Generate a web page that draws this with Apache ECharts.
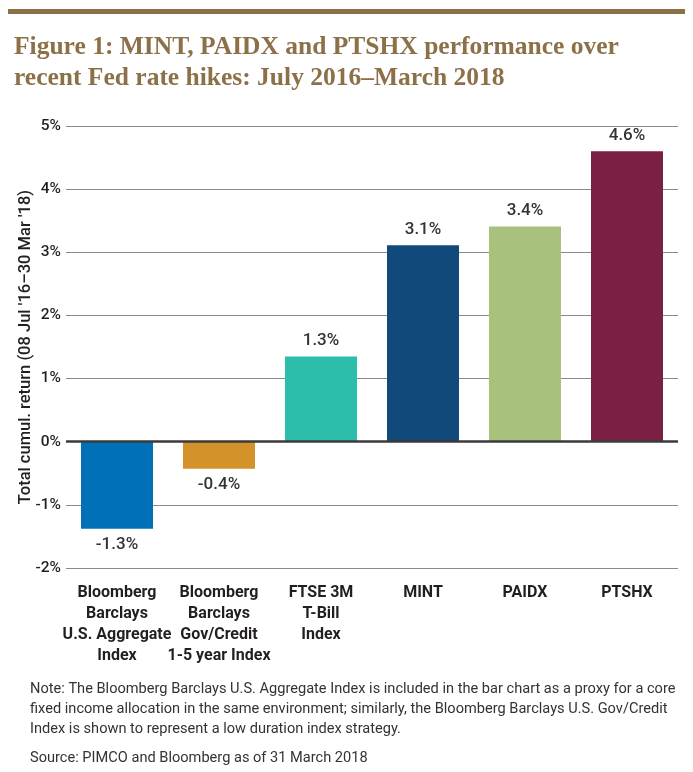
<!DOCTYPE html>
<html>
<head>
<meta charset="utf-8">
<script src="https://cdn.jsdelivr.net/npm/echarts@6/dist/echarts.min.js"></script>
<style>
  html, body { margin: 0; padding: 0; background: #fff; }
  #chart { width: 693px; height: 772px; }
</style>
</head>
<body>
<div id="chart"></div>
<script>
var categories = [
  'Bloomberg\nBarclays\nU.S. Aggregate\nIndex',
  'Bloomberg\nBarclays\nGov/Credit\n1-5 year Index',
  'FTSE 3M\nT-Bill\nIndex',
  'MINT',
  'PAIDX',
  'PTSHX'
];
var returns = [-1.38, -0.43, 1.35, 3.11, 3.41, 4.6];   // bar heights
var returnLabels = ['-1.3%', '-0.4%', '1.3%', '3.1%', '3.4%', '4.6%'];
var barColors = ['#0070b8', '#d4922b', '#2dbdab', '#11497a', '#a8c27e', '#7b2045'];
var yTicks = { min: -2, max: 5, step: 1 };

var noteLines = [
  'Note: The Bloomberg Barclays U.S. Aggregate Index is included in the bar chart as a proxy for a core',
  'fixed income allocation in the same environment; similarly, the Bloomberg Barclays U.S. Gov/Credit',
  'Index is shown to represent a low duration index strategy.'
];
var sourceText = 'Source: PIMCO and Bloomberg as of 31 March 2018';

var brown = '#8b7048';
var sans = 'Roboto, "Noto Sans", sans-serif';

var chart = echarts.init(document.getElementById('chart'));

// one bar per category, each with its own colour
var barData = [];
for (var i = 0; i < returns.length; i++) {
  barData.push({
    value: returns[i],
    itemStyle: { color: barColors[i] },
    label: { position: returns[i] < 0 ? 'bottom' : 'top' }
  });
}

var option = {
  animation: false,
  title: {
    text: 'Figure 1: MINT, PAIDX and PTSHX performance over\nrecent Fed rate hikes: July 2016\u2013March 2018',
    left: 9,
    top: 27,
    textStyle: {
      fontFamily: '"Liberation Serif", serif',
      fontWeight: 'bold',
      fontSize: 25.5,
      lineHeight: 31,
      color: brown
    }
  },
  grid: { left: 66, right: 15, top: 126, bottom: 204 },
  xAxis: {
    type: 'category',
    data: categories,
    axisLine: { show: false },
    axisTick: { show: false },
    axisLabel: {
      interval: 0,
      margin: 14,
      fontFamily: sans,
      fontWeight: 'bold',
      fontSize: 16,
      lineHeight: 21,
      color: '#231f20'
    }
  },
  yAxis: {
    type: 'value',
    min: yTicks.min,
    max: yTicks.max,
    interval: yTicks.step,
    name: "Total cumul. return (08 Jul '16\u201330 Mar '18)",
    nameLocation: 'middle',
    nameGap: 32,
    nameMoveOverlap: false,
    nameTextStyle: {
      fontFamily: sans,
      fontWeight: 500,
      fontSize: 16.5,
      color: '#231f20'
    },
    axisLine: { show: false },
    axisTick: { show: false },
    axisLabel: {
      formatter: '{value}%',
      margin: 5,
      fontFamily: sans,
      fontWeight: 500,
      fontSize: 15.5,
      color: '#231f20'
    },
    splitLine: { lineStyle: { color: '#8a8a8a', width: 1 } }
  },
  series: [{
    type: 'bar',
    data: barData,
    barWidth: 72,
    label: {
      show: true,
      distance: 7,
      formatter: function (p) { return returnLabels[p.dataIndex]; },
      fontFamily: sans,
      fontWeight: 500,
      fontSize: 17,
      color: '#333'
    },
    markLine: {
      silent: true,
      symbol: 'none',
      label: { show: false },
      lineStyle: { color: '#3a3a3a', width: 2.5, type: 'solid' },
      data: [{ yAxis: 0 }]
    }
  }],
  graphic: [
    {
      type: 'rect',
      shape: { x: 8, y: 9, width: 677, height: 5 },
      style: { fill: brown }
    },
    {
      type: 'text',
      left: 30,
      top: 679,
      style: {
        text: noteLines.join('\n'),
        fontFamily: sans,
        fontSize: 14.6,
        lineHeight: 20,
        fill: '#333'
      }
    },
    {
      type: 'text',
      left: 30,
      top: 751,
      style: {
        text: sourceText,
        fontFamily: sans,
        fontSize: 14.6,
        fill: '#333'
      }
    }
  ]
};

option && chart.setOption(option);
</script>
</body>
</html>
